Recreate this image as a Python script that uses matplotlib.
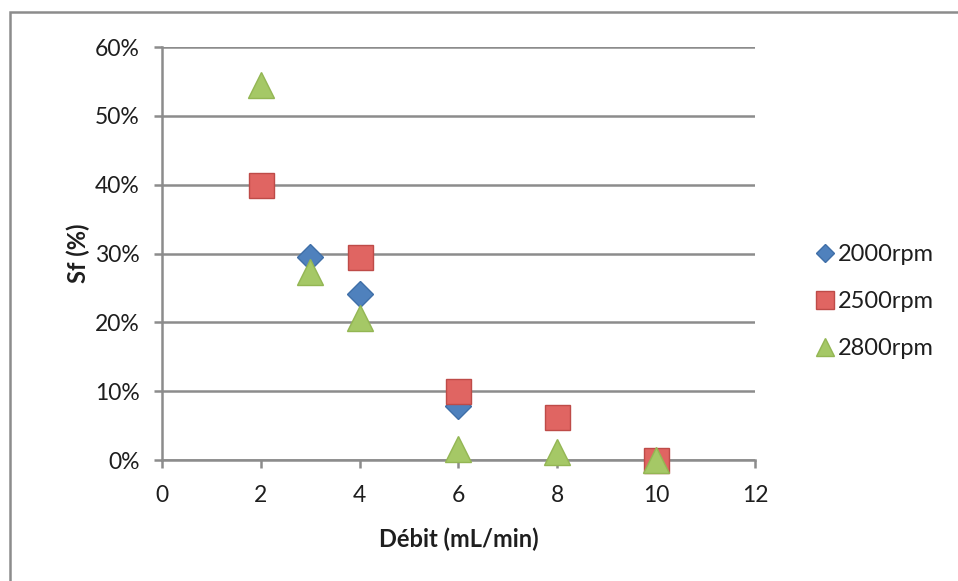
import matplotlib.pyplot as plt
from matplotlib.patches import Rectangle
from matplotlib.ticker import PercentFormatter

plt.rcParams['font.family'] = ['Lato', 'DejaVu Sans']

# data (Sf as a fraction)
x_2000 = [3, 4, 6]
sf_2000 = [0.295, 0.241, 0.078]
x_2500 = [2, 4, 6, 8, 10]
sf_2500 = [0.40, 0.295, 0.10, 0.062, 0.0]
x_2800 = [2, 3, 4, 6, 8, 10]
sf_2800 = [0.545, 0.273, 0.206, 0.016, 0.012, 0.0]

fig = plt.figure(figsize=(9.58, 5.81), dpi=100)
ax = fig.add_axes([0.169, 0.208, 0.619, 0.711])

grey = '#8c8c8c'
txt = '#1e1e1e'
ax.plot(x_2000, sf_2000, 'D', ms=13, color='#4f81bd', mec='#3f6fa8', mew=1, label='2000rpm', zorder=3, clip_on=False)
ax.plot(x_2500, sf_2500, 's', ms=18, color='#e06562', mec='#be4b48', mew=1, label='2500rpm', zorder=4, clip_on=False)
ax.plot(x_2800, sf_2800, '^', ms=19, color='#a5c866', mec='#93b653', mew=1, label='2800rpm', zorder=5, clip_on=False)

ax.set_xlim(0, 12)
ax.set_ylim(0, 0.6)
ax.set_xticks(range(0, 13, 2))
ax.set_yticks([i / 10 for i in range(7)])
ax.yaxis.set_major_formatter(PercentFormatter(1.0, decimals=0))
ax.grid(axis='y', color=grey, linewidth=1.8)
ax.set_axisbelow(True)

for side in ['top', 'right']:
    ax.spines[side].set_visible(False)
for side in ['left', 'bottom']:
    ax.spines[side].set_color(grey)
    ax.spines[side].set_linewidth(1.8)
ax.tick_params(colors=grey, width=1.8, length=6, labelcolor=txt, labelsize=16.5)
ax.tick_params(axis='x', pad=12)
ax.tick_params(axis='y', pad=10)

ax.set_xlabel('Débit (mL/min)', fontsize=17, fontweight='bold', color=txt)
ax.set_ylabel('Sf (%)', fontsize=17, fontweight='bold', color=txt)
ax.xaxis.set_label_coords(0.5, -0.162)
ax.yaxis.set_label_coords(-0.121, 0.5)

leg = ax.legend(loc='center left', bbox_to_anchor=(1.098, 0.383), frameon=False, fontsize=17,
                labelspacing=1.1, handletextpad=0.05, handlelength=1.0, markerscale=0.7,
                borderaxespad=0, borderpad=0)
for t in leg.get_texts():
    t.set_color(txt)

# outer chart border
fig.patches.append(Rectangle((10 / 958, -0.1), 1.2, 1 - 12 / 581 + 0.1, transform=fig.transFigure,
                             fill=False, edgecolor=grey, linewidth=1.8))

fig.savefig('out.png', dpi=100)
